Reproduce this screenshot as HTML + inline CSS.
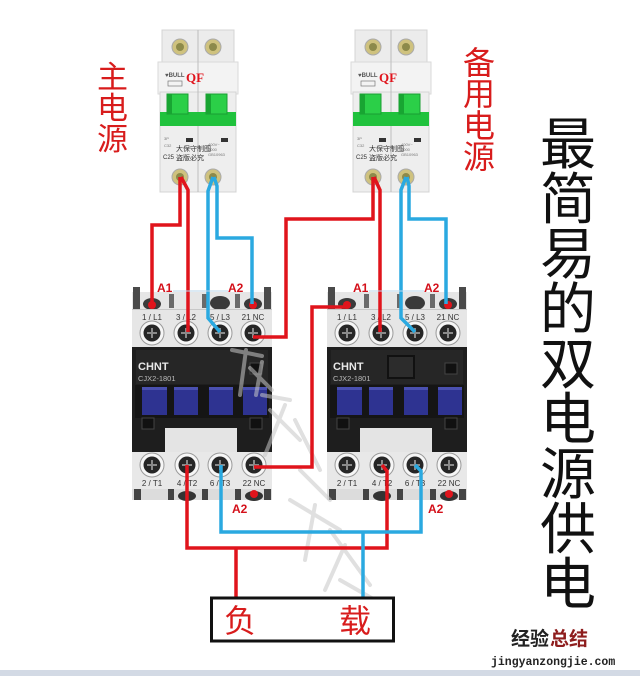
<!DOCTYPE html>
<html><head><meta charset="utf-8"><style>
html,body{margin:0;padding:0;background:#fff;}
svg{display:block;}
.cjk{font-family:"Liberation Sans","Noto Sans CJK SC",sans-serif;}
</style></head><body>
<svg width="640" height="676" viewBox="0 0 640 676" xmlns="http://www.w3.org/2000/svg">
<rect width="640" height="676" fill="#fff"/>
<rect x="0" y="670" width="640" height="6" fill="#d3dae5"/>

<defs>
<g id="brk">
  <rect x="2" y="0" width="72" height="34" fill="#ececec" stroke="#d4d4d4"/>
  <rect x="-2" y="32" width="80" height="32" fill="#f3f3f3" stroke="#dadada"/>
  <rect x="0" y="62" width="76" height="100" fill="#eeeeee" stroke="#d4d4d4"/>
  <line x1="38" y1="0" x2="38" y2="162" stroke="#bdbdbd" stroke-width="1"/>
  <circle cx="20" cy="17" r="8" fill="#cfc27e" stroke="#aaa"/>
  <circle cx="20" cy="17" r="4" fill="#8d8a4a"/>
  <circle cx="53" cy="17" r="8" fill="#cfc27e" stroke="#aaa"/>
  <circle cx="53" cy="17" r="4" fill="#8d8a4a"/>
  <text x="5" y="47" font-family="Liberation Sans,sans-serif" font-size="6" font-weight="bold" fill="#555">♥BULL</text>
  <rect x="8" y="51" width="14" height="5" fill="none" stroke="#777" stroke-width="0.7"/>
  <text x="26" y="52" font-family="Liberation Serif,serif" font-size="13" font-weight="bold" fill="#e0141c">QF</text>
  <rect x="0" y="82" width="76" height="14" fill="#20c23d"/>
  <rect x="7" y="64" width="21" height="20" fill="#2bcf48" stroke="#1a9e33" stroke-width="1"/>
  <rect x="46" y="64" width="21" height="20" fill="#2bcf48" stroke="#1a9e33" stroke-width="1"/>
  <rect x="7" y="64" width="5" height="20" fill="#18a532"/>
  <rect x="46" y="64" width="5" height="20" fill="#18a532"/>
  <rect x="26" y="108" width="7" height="4" fill="#333"/>
  <rect x="61" y="108" width="7" height="4" fill="#333"/>
  <text x="4" y="110" font-family="Liberation Sans,sans-serif" font-size="4" fill="#777">3P</text>
  <text x="4" y="117" font-family="Liberation Sans,sans-serif" font-size="4" fill="#777">C32</text>
  <text x="48" y="116" font-family="Liberation Sans,sans-serif" font-size="4" fill="#777">400V~</text>
  <text x="48" y="121" font-family="Liberation Sans,sans-serif" font-size="4" fill="#777">6000</text>
  <text x="48" y="126" font-family="Liberation Sans,sans-serif" font-size="4" fill="#777">GB10963</text>
  <text x="16" y="121" class="cjk" font-size="7" fill="#333">大保守制图</text>
  <text x="3" y="129" font-family="Liberation Sans,sans-serif" font-size="6" fill="#333">C25</text>
  <text x="16" y="130" class="cjk" font-size="7" fill="#333">盗版必究</text>
  <circle cx="20" cy="147" r="8" fill="#cfc27e" stroke="#aaa"/>
  <circle cx="20" cy="147" r="4" fill="#8d8a4a"/>
  <circle cx="53" cy="147" r="8" fill="#cfc27e" stroke="#aaa"/>
  <circle cx="53" cy="147" r="4" fill="#8d8a4a"/>
</g>

<g id="scr">
  <circle r="12" fill="#f6f6f6" stroke="#9a9a9a" stroke-width="1"/>
  <circle r="8.5" fill="#262626"/>
  <line x1="-5" y1="0" x2="5" y2="0" stroke="#8a8a8a" stroke-width="2"/>
  <line x1="0" y1="-5" x2="0" y2="5" stroke="#8a8a8a" stroke-width="2"/>
</g>

<g id="con">
  <rect x="0" y="292" width="140" height="56" fill="#e6e6e6"/>
  <rect x="1" y="287" width="7" height="22" fill="#4a4a4a"/>
  <rect x="132" y="287" width="7" height="22" fill="#4a4a4a"/>
  <rect x="37" y="294" width="5" height="14" fill="#6a6a6a"/>
  <rect x="70" y="294" width="5" height="14" fill="#6a6a6a"/>
  <rect x="103" y="294" width="5" height="14" fill="#6a6a6a"/>
  <ellipse cx="20" cy="304" rx="9" ry="6" fill="#3a3a3a"/>
  <ellipse cx="88" cy="303" rx="10" ry="7" fill="#3a3a3a"/>
  <ellipse cx="121" cy="304" rx="9" ry="6" fill="#3a3a3a"/>
  <circle cx="20" cy="305" r="4" fill="#e0141c"/>
  <circle cx="121" cy="305" r="4" fill="#e0141c"/>
  <rect x="0" y="309" width="140" height="1" fill="#c8c8c8"/>
  <g font-family="Liberation Sans,sans-serif" font-size="8" fill="#333" text-anchor="middle">
    <text x="20" y="320">1 / L1</text><text x="54" y="320">3 / L2</text>
    <text x="88" y="320">5 / L3</text><text x="121" y="320">21 NC</text>
  </g>
  <use href="#scr" x="20" y="333"/><use href="#scr" x="54" y="333"/>
  <use href="#scr" x="88" y="333"/><use href="#scr" x="121" y="333"/>
  <rect x="0" y="347" width="140" height="106" fill="#1e1e1e"/>
  <rect x="4" y="350" width="132" height="34" fill="#262626"/>
  <text x="6" y="370" font-family="Liberation Sans,sans-serif" font-size="11" font-weight="bold" fill="#e8e8e8">CHNT</text>
  <text x="6" y="381" font-family="Liberation Sans,sans-serif" font-size="7.5" fill="#bbb">CJX2-1801</text>
  <rect x="118" y="363" width="12" height="11" fill="#111" stroke="#444"/>
  <rect x="3" y="385" width="134" height="33" fill="#151515"/>
  <rect x="10" y="387" width="25" height="28" fill="#2e3391"/>
  <rect x="42" y="387" width="24" height="28" fill="#2e3391"/>
  <rect x="77" y="387" width="24" height="28" fill="#2e3391"/>
  <rect x="111" y="387" width="24" height="28" fill="#2e3391"/>
  <rect x="10" y="387" width="25" height="3" fill="#4a50b0"/>
  <rect x="42" y="387" width="24" height="3" fill="#4a50b0"/>
  <rect x="77" y="387" width="24" height="3" fill="#4a50b0"/>
  <rect x="111" y="387" width="24" height="3" fill="#4a50b0"/>
  <rect x="10" y="418" width="12" height="11" fill="#111" stroke="#444"/>
  <rect x="118" y="418" width="12" height="11" fill="#111" stroke="#444"/>
  <rect x="33" y="428" width="72" height="25" fill="#e4e4e4"/>
  <rect x="0" y="452" width="140" height="38" fill="#e8e8e8"/>
  <use href="#scr" x="20" y="465"/><use href="#scr" x="55" y="465"/>
  <use href="#scr" x="88" y="465"/><use href="#scr" x="122" y="465"/>
  <g font-family="Liberation Sans,sans-serif" font-size="8" fill="#333" text-anchor="middle">
    <text x="20" y="486">2 / T1</text><text x="55" y="486">4 / T2</text>
    <text x="88" y="486">6 / T3</text><text x="122" y="486">22 NC</text>
  </g>
  <rect x="0" y="489" width="140" height="11" fill="#dcdcdc"/>
  <rect x="2" y="489" width="7" height="11" fill="#444"/>
  <rect x="36" y="489" width="6" height="11" fill="#444"/>
  <rect x="70" y="489" width="6" height="11" fill="#444"/>
  <rect x="103" y="489" width="6" height="11" fill="#444"/>
  <rect x="132" y="489" width="7" height="11" fill="#444"/>
  <ellipse cx="55" cy="496" rx="9" ry="5" fill="#333"/>
  <ellipse cx="122" cy="496" rx="9" ry="5" fill="#333"/>
  <circle cx="122" cy="494" r="4" fill="#e0141c"/>
</g>
</defs>

<use href="#brk" x="160" y="30"/>
<use href="#brk" x="353" y="30"/>

<use href="#con" x="132" y="0"/>
<use href="#con" x="327" y="0"/>
<rect x="388" y="356" width="26" height="22" fill="#2c2c2c" stroke="#111" stroke-width="2"/>

<!-- watermark strokes -->
<g fill="none" stroke="#c8c8c8" stroke-width="4" stroke-linecap="round" opacity="0.55">
  <path d="M232,350 L262,356 M246,350 L240,395 M250,368 L272,390 M262,362 L256,395"/>
  <path d="M262,395 L290,400 M270,410 L300,440 M285,405 L265,455 M295,420 L320,470"/>
  <path d="M300,470 L330,500 M290,500 L340,530 M315,505 L305,560 M330,530 L370,585 M345,545 L325,590"/>
  <path d="M340,580 L375,600 M355,600 L385,640"/>
</g>

<g fill="none" stroke-width="3.5" stroke-linejoin="miter">
  <path d="M213,177 L208,191 L208,318 L220,332" stroke="#2aa9e0"/>
  <path d="M214,177 L217,186 L217,238 L252,238 L252,304" stroke="#2aa9e0"/>
  <path d="M406,177 L401,190 L401,318 L415,332" stroke="#2aa9e0"/>
  <path d="M407,177 L409,186 L409,219 L446,219 L446,304" stroke="#2aa9e0"/>
  <path d="M180,177 L180,225 L152,225 L152,304" stroke="#e0141c"/>
  <path d="M181,177 L188,190 L188,332" stroke="#e0141c"/>
  <path d="M373,177 L373,219 L286,219 L286,337 L253,337" stroke="#e0141c"/>
  <path d="M374,177 L380,190 L380,332" stroke="#e0141c"/>
  <path d="M347,307 L312,307 L312,467 L254,467" stroke="#e0141c"/>
  <path d="M187,465 L187,548 L387,548 L387,471 L382,465" stroke="#e0141c"/>
  <path d="M236,548 L236,598" stroke="#e0141c"/>
  <path d="M221,465 L221,532 L421,532 L421,471 L415,465" stroke="#2aa9e0"/>
  <path d="M363,532 L363,598" stroke="#2aa9e0"/>
</g>

<g font-family="Liberation Sans,sans-serif" font-size="12" font-weight="bold" fill="#d4101a">
  <text x="157" y="292">A1</text><text x="228" y="292">A2</text>
  <text x="353" y="292">A1</text><text x="424" y="292">A2</text>
  <text x="232" y="513">A2</text><text x="428" y="513">A2</text>
</g>
<line x1="173" y1="291" x2="228" y2="291" stroke="#b8d4ea" stroke-width="1"/>
<line x1="369" y1="291" x2="424" y2="291" stroke="#b8d4ea" stroke-width="1"/>

<rect x="211.5" y="598" width="182" height="43" fill="#fff" stroke="#111" stroke-width="3"/>
<g class="cjk" font-size="32" fill="#d81c1c">
  <text x="224" y="632">负</text>
  <text x="339" y="632">载</text>
</g>

<g class="cjk" font-size="31" fill="#d81c1c">
  <text x="97" y="88">主</text>
  <text x="97" y="119">电</text>
  <text x="97" y="150">源</text>
</g>
<g class="cjk" font-size="32" fill="#d81c1c">
  <text x="463" y="74">备</text>
  <text x="463" y="105">用</text>
  <text x="463" y="137">电</text>
  <text x="463" y="168">源</text>
</g>

<g class="cjk" font-size="56" fill="#111">
  <text x="540" y="164">最</text>
  <text x="540" y="219">简</text>
  <text x="540" y="274">易</text>
  <text x="540" y="329">的</text>
  <text x="540" y="384">双</text>
  <text x="540" y="439">电</text>
  <text x="540" y="494">源</text>
  <text x="540" y="549">供</text>
  <text x="540" y="604">电</text>
</g>

<g class="cjk" font-size="19" font-weight="bold">
  <text x="511" y="645" fill="#222">经验</text>
  <text x="550" y="645" fill="#8e1d1d">总结</text>
</g>
<text x="491" y="665" font-family="Liberation Mono,monospace" font-size="11.5" font-weight="bold" fill="#222">jingyanzongjie.com</text>
</svg>
</body></html>
